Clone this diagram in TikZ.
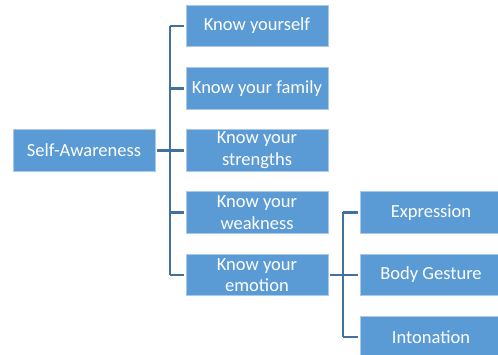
\documentclass[tikz,border=0pt]{standalone}
\usepackage{fontspec}
\setmainfont{Carlito}
\definecolor{boxfill}{HTML}{5B9BD5}
\definecolor{boxline}{HTML}{A9C8EA}
\definecolor{conncol}{HTML}{41719C}
\begin{document}
\begin{tikzpicture}[x=1pt,y=-1pt,
  box/.style={draw=boxline, line width=0.8pt, fill=boxfill, text=white,
    minimum width=142pt, minimum height=41.5pt, inner sep=0pt, align=center,
    font=\fontsize{18.5}{21.7}\selectfont},
  conn/.style={draw=conncol, line width=2.2pt}]
\useasboundingbox (0,0) rectangle (498,355);
\node[box] (sa) at (84,150.5) {Self-Awareness};
\node[box] (k1) at (257,26) {Know yourself};
\node[box] (k2) at (257,88.5) {Know your family};
\node[box] (k3) at (257,150.5) {Know your\\strengths};
\node[box] (k4) at (257,212.5) {Know your\\weakness};
\node[box] (k5) at (257,275) {Know your\\emotion};
\node[box] (e1) at (431,212.5) {Expression};
\node[box] (e2) at (431,275) {Body Gesture};
\node[box] (e3) at (431,337) {Intonation};
\coordinate (b1) at (170,26);
\coordinate (b5) at (170,275);
\coordinate (c1) at (343,212.5);
\coordinate (c3) at (343,337);
\draw[conn] (b1) -- (b5);
\draw[conn] (c1) -- (c3);
\foreach \k in {k1,k2,k3,k4,k5}
  \draw[conn, shorten >=2pt] (b1 |- \k.west) -- (\k.west);
\foreach \k in {e1,e2,e3}
  \draw[conn, shorten >=2pt] (c1 |- \k.west) -- (\k.west);
\draw[conn, shorten <=2pt] (sa.east) -- (sa.east -| b1);
\draw[conn, shorten <=2pt] (k5.east) -- (k5.east -| c1);
\end{tikzpicture}
\end{document}
